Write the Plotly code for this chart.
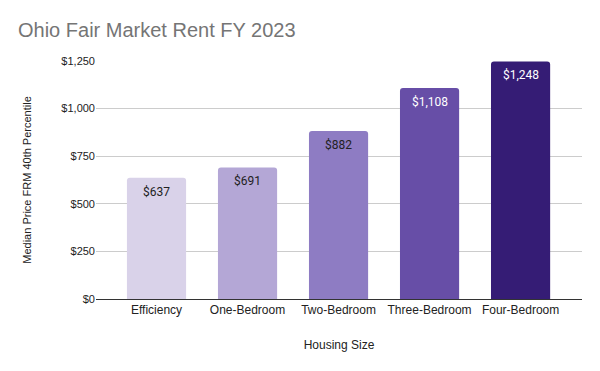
import plotly.graph_objects as go

categories = ["Efficiency", "One-Bedroom", "Two-Bedroom", "Three-Bedroom", "Four-Bedroom"]
values = [637, 691, 882, 1108, 1248]
labels = ["$637", "$691", "$882", "$1,108", "$1,248"]
colors = ["#d9d2e9", "#b4a7d6", "#8e7cc3", "#674ea7", "#351c75"]
text_colors = ["#222222", "#222222", "#222222", "#ffffff", "#ffffff"]
tick_vals = [0, 250, 500, 750, 1000, 1250]
tick_text = ["$0", "$250", "$500", "$750", "$1,000", "$1,250"]

fig = go.Figure(go.Bar(
    x=categories, y=values,
    marker=dict(color=colors, cornerradius=3, line=dict(width=0)),
    width=0.65, hoverinfo="skip",
))

for c, v, t, tc in zip(categories, values, labels, text_colors):
    fig.add_annotation(x=c, y=v, text=t, showarrow=False, yanchor="middle", yshift=-14,
                       font=dict(family="Roboto", size=12, color=tc))

fig.update_layout(
    width=600, height=371,
    margin=dict(l=96, r=18, t=61, b=72, autoexpand=False),
    paper_bgcolor="white", plot_bgcolor="white",
    title=dict(text="Ohio Fair Market Rent FY 2023", x=0.03, xanchor="left",
               y=0.92, yanchor="middle",
               font=dict(family="Liberation Sans, Arial", size=20, color="#757575")),
    font=dict(family="Liberation Sans, Arial", size=11, color="#222222"),
    showlegend=False,
)
fig.update_xaxes(
    range=[-0.665, 4.675], showgrid=False, showline=True, linecolor="#333333", linewidth=1,
    ticks="", automargin=False, tickfont=dict(size=12, color="#222222"),
    title=dict(text="Housing Size", font=dict(size=12, color="#222222"), standoff=24),
)
fig.update_yaxes(
    range=[0, 1250], tickvals=tick_vals, ticktext=tick_text, automargin=False,
    showgrid=True, gridcolor="#cccccc", gridwidth=1, zeroline=False,
    ticks="", ticklen=0, tickfont=dict(size=11, color="#222222"),
    title=dict(text="Median Price FRM 40th Percentile", font=dict(size=11, color="#222222"), standoff=27),
)

fig.write_html("out.html", config={"displayModeBar": False},
               post_script="document.body.style.margin='0';")
